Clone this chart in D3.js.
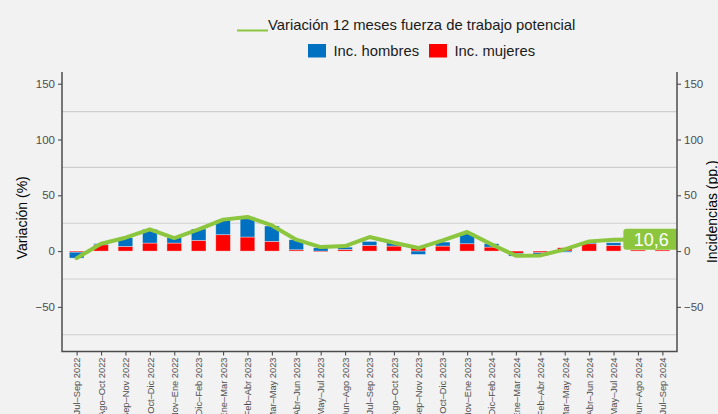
<!DOCTYPE html>
<html>
<head>
<meta charset="utf-8">
<script src="https://cdn.jsdelivr.net/npm/d3@7"></script>
<style>
  body { margin: 0; background: #f2f2f2; }
  svg { display: block; font-family: "Liberation Sans", Arial, sans-serif; }
</style>
</head>
<body>
<svg width="718" height="414"></svg>
<script>
var periods = ["Jul–Sep 2022", "Ago–Oct 2022", "Sep–Nov 2022", "Oct–Dic 2022", "Nov–Ene 2022",
  "Dic–Feb 2023", "Ene–Mar 2023", "Feb–Abr 2023", "Mar–May 2023", "Abr–Jun 2023", "May–Jul 2023",
  "Jun–Ago 2023", "Jul–Sep 2023", "Ago–Oct 2023", "Sep–Nov 2023", "Oct–Dic 2023", "Nov–Ene 2023",
  "Dic–Feb 2024", "Ene–Mar 2024", "Feb–Abr 2024", "Mar–May 2024", "Abr–Jun 2024", "May–Jul 2024",
  "Jun–Ago 2024", "Jul–Sep 2024"];

// incidencias (pp.)
var mujeres = [-1, 5.7, 4.2, 7.2, 7.2, 9.6, 14.7, 12.6, 8.7, 1.2, -0.8, 1.5, 5.1,
  4.5, 4, 4.5, 6.6, 3.6, -2, -1.5, 3, 6.6, 5.1, 1, 1];
var hombres = [-5.3, 1, 7.8, 12.3, 4.8, 10.2, 13.2, 18, 13.8, 9, 3, 2, 3.6,
  3, -3, 3.6, 9.4, 3, -2.5, -2.5, -1, 1.5, 2.4, 0, 0];

// variacion 12 meses (%)
var variacion = [-6.3, 6.6, 12, 19.5, 11.7, 19.5, 28.2, 30.6, 23, 10.2, 3.6, 4.5, 12.6,
  7.5, 2.7, 9.6, 17.1, 6, -4.2, -3.9, 1.5, 8.7, 10.2, 10.4, 10.6];

var yTicks = [-50, 0, 50, 100, 150];
var yGrid = [-75, -25, 25, 75, 125];

var svg = d3.select("svg");

var pL = 62, pR = 677, pT = 72, pB = 351.5;
var green = "#8cc63e", blue = "#0070c0", red = "#ff0000", axisCol = "#4d4d4d";

var x = d3.scalePoint().domain(periods).range([pL, pR]).padding(0.6);
var step = x.step();
var y = d3.scaleLinear().domain([-90, 160.5]).range([pB, pT]);

svg.append("defs").append("clipPath").attr("id", "panel")
  .append("rect").attr("x", pL).attr("y", pT).attr("width", pR - pL).attr("height", pB - pT);

// grid
svg.append("g").selectAll("line").data(yGrid).enter().append("line")
  .attr("x1", pL).attr("x2", pR)
  .attr("y1", d => y(d)).attr("y2", d => y(d))
  .attr("stroke", "#cfcfcf").attr("stroke-width", 1.1);

// stacked bars
var rows = periods.map((p, i) => ({ periodo: p, mujeres: mujeres[i], hombres: hombres[i] }));
var series = d3.stack().keys(["mujeres", "hombres"]).offset(d3.stackOffsetDiverging)(rows);
var color = d3.scaleOrdinal().domain(["mujeres", "hombres"]).range([red, blue]);
var bw = step * 0.6;

svg.append("g").selectAll("g").data(series).enter().append("g")
    .attr("fill", d => color(d.key))
  .selectAll("rect").data(d => d).enter().append("rect")
    .attr("x", d => x(d.data.periodo) - bw / 2)
    .attr("width", bw)
    .attr("y", d => y(Math.max(d[0], d[1])))
    .attr("height", d => Math.abs(y(d[0]) - y(d[1])))
    .attr("stroke", "#ffffff").attr("stroke-opacity", 0.45).attr("stroke-width", 0.8);

// line
var line = d3.line().x((d, i) => x(periods[i])).y(d => y(d));
svg.append("path").datum(variacion)
  .attr("d", line)
  .attr("fill", "none").attr("stroke", green).attr("stroke-width", 4)
  .attr("stroke-linejoin", "round").attr("stroke-linecap", "round");

// last value label
var last = variacion.length - 1;
var lx = x(periods[last]), ly = y(variacion[last]);
var lab = svg.append("g").attr("clip-path", "url(#panel)");
lab.append("rect")
  .attr("x", lx - 39).attr("y", ly - 10.5).attr("width", 58).attr("height", 21)
  .attr("rx", 3).attr("fill", green);
lab.append("text")
  .attr("x", lx - 11).attr("y", ly + 6.5)
  .attr("text-anchor", "middle").attr("fill", "#ffffff").attr("font-size", 18)
  .text(String(variacion[last]).replace(".", ","));

// axes
var yl = svg.append("g").attr("transform", "translate(" + pL + ",0)")
  .call(d3.axisLeft(y).tickValues(yTicks).tickSize(4).tickPadding(3));
var yr = svg.append("g").attr("transform", "translate(" + pR + ",0)")
  .call(d3.axisRight(y).tickValues(yTicks).tickSize(4).tickPadding(3));
var xa = svg.append("g").attr("transform", "translate(0," + pB + ")")
  .call(d3.axisBottom(x).tickSize(4).tickPadding(2));

[yl, yr, xa].forEach(function(a) {
  a.select(".domain").remove();
  a.selectAll(".tick line").attr("stroke", axisCol).attr("stroke-width", 1.1);
  a.selectAll("text").attr("fill", axisCol).attr("font-family", "Liberation Sans, Arial, sans-serif");
});
yl.selectAll("text").attr("font-size", 11.5);
yr.selectAll("text").attr("font-size", 11.5);
xa.selectAll("text").attr("font-size", 9.3)
  .attr("transform", "rotate(-90)")
  .attr("text-anchor", "end")
  .attr("x", -6).attr("y", 0).attr("dy", "0.35em");

// axis lines (left, bottom, right)
svg.append("path")
  .attr("d", "M" + pL + "," + pT + "V" + pB + "H" + pR + "V" + pT)
  .attr("fill", "none").attr("stroke", axisCol).attr("stroke-width", 1.5);

// axis titles
svg.append("text")
  .attr("transform", "translate(27," + ((pT + pB) / 2 + 6) + ") rotate(-90)")
  .attr("text-anchor", "middle").attr("font-size", 14).attr("fill", "#000")
  .text("Variación (%)");
svg.append("text")
  .attr("transform", "translate(717," + ((pT + pB) / 2) + ") rotate(-90)")
  .attr("text-anchor", "middle").attr("font-size", 14).attr("fill", "#000")
  .text("Incidencias (pp.)");

// legend
var leg = svg.append("g");
leg.append("line").attr("x1", 237).attr("x2", 268).attr("y1", 30.5).attr("y2", 30.5)
  .attr("stroke", green).attr("stroke-width", 2);
leg.append("text").attr("x", 268).attr("y", 30).attr("font-size", 14.8).attr("fill", "#1a1a1a")
  .text("Variación 12 meses fuerza de trabajo potencial");

var legItems = [{ key: "hombres", label: "Inc. hombres", x: 308 }, { key: "mujeres", label: "Inc. mujeres", x: 429 }];
var li = leg.selectAll("g.item").data(legItems).enter().append("g").attr("class", "item")
  .attr("transform", d => "translate(" + d.x + ",44)");
li.append("rect").attr("width", 18).attr("height", 13.5).attr("fill", d => color(d.key));
li.append("text").attr("x", 25.5).attr("y", 11.8).attr("font-size", 14.8).attr("fill", "#1a1a1a")
  .text(d => d.label);
</script>
</body>
</html>
